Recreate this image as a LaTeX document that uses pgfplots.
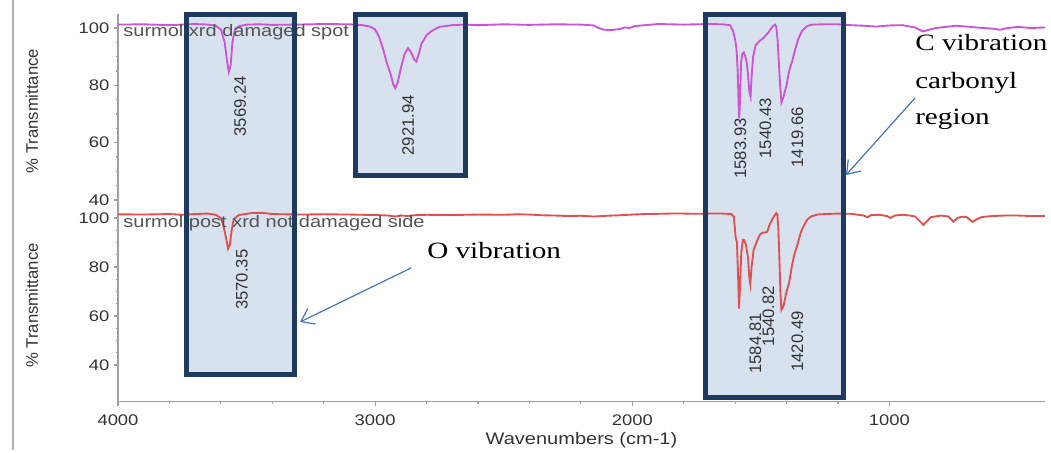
\documentclass[border=0pt]{standalone}
\usepackage{pgfplots}
\pgfplotsset{compat=1.18}
\usetikzlibrary{arrows.meta}
\usepackage{fontspec}
\setmainfont{Liberation Sans}
\newfontfamily\omnic[FakeStretch=1.2]{Liberation Sans}
\newfontfamily\omnicrot{Liberation Sans}
\newfontfamily\tnr[FakeStretch=1.25]{Liberation Serif}

\definecolor{spectop}{HTML}{CC55D6}
\definecolor{specbot}{HTML}{E05050}
\definecolor{boxedge}{HTML}{1F3A5F}
\definecolor{boxfill}{HTML}{D8E2EE}
\definecolor{arrowblue}{HTML}{4472C4}
\definecolor{axisgray}{HTML}{A0A0A0}
\definecolor{ticktext}{HTML}{333333}
\definecolor{legendgray}{HTML}{555555}

\pgfplotsset{
  ftir/.style={
    scale only axis, width=695.25pt,
    x dir=reverse, xmin=395, xmax=4000,
    clip=false,
    axis line style={axisgray, line width=0.9pt},
    tick style={axisgray, line width=0.8pt},
    tick align=outside, major tick length=3pt, minor tick length=1.5pt,
    ytick={40,60,80,100}, minor y tick num=3,
    tick label style={font=\omnic\fontsize{11.5}{13}\selectfont, text=ticktext},
    xticklabel style={yshift=-3pt},
    /pgf/number format/assume math mode=true,
    /pgf/number format/1000 sep={},
    every axis y label/.style={at={(axis description cs:-0.0928,0.5)}, rotate=90,
      anchor=center, font=\omnicrot\fontsize{12.5}{14}\selectfont, text=ticktext},
    ylabel={\% Transmittance},
  },
}
\tikzset{
  pk/.style={rotate=90, anchor=east, inner sep=0pt,
    font=\omnicrot\fontsize{12.5}{14}\selectfont, text=ticktext},
  lg/.style={anchor=west, inner sep=0pt,
    font=\omnic\fontsize{12.5}{14}\selectfont, text=legendgray},
}

\begin{document}
\begin{tikzpicture}
% pixel frame: 1 px = 0.75pt, origin top left
\begin{scope}[x=0.75pt, y=-0.75pt]
  \path[use as bounding box] (0,0) rectangle (1051,450);
  \draw[gray!60, line width=1.5pt] (13,0) -- (13,450);
  \fill[boxfill] (186.5,14.5) rectangle (294.5,374.5);
  \fill[boxfill] (355.5,14.5) rectangle (465.5,175.5);
  \fill[boxfill] (705.5,14.5) rectangle (843.5,397.5);
\end{scope}

% upper spectrum
\begin{axis}[ftir, at={(88.5pt,-10.275pt)}, anchor=north west,
  height=146.175pt, ymin=37, ymax=105,
  axis y line*=left, hide x axis]
\addplot[spectop, line width=1.4pt, no markers] coordinates {
(4000,101.2) (3900,101.3) (3800,101.0) (3750,101.2) (3700,101.4) (3650,101.2)
(3620,100.8) (3600,99.5) (3585,95) (3575,88) (3569,84.7) (3562,87) (3555,95)
(3545,99.5) (3530,100.6) (3500,101.2) (3450,101.3) (3400,101.1) (3300,101.2)
(3200,101.4) (3100,101.3) (3050,101.0) (3020,100.5) (3000,99.5) (2985,97)
(2970,93) (2955,88) (2940,84) (2930,80.5) (2922,79) (2912,81) (2900,86)
(2885,91) (2872,93) (2860,91.5) (2848,89) (2840,88.3) (2830,91) (2820,94.5)
(2800,97.5) (2780,99) (2750,100.4) (2700,101) (2650,101.2) (2600,101.0)
(2500,101.3) (2400,101.1) (2300,101.3) (2200,101.2) (2150,100.9) (2130,100.0)
(2110,99.4) (2080,99.3) (2050,99.6) (2030,100.2) (2010,100.0) (1990,100.7)
(1950,101.0) (1900,101.4) (1850,101.3) (1800,101.2) (1750,101.3) (1700,101.4)
(1650,101.3) (1620,101.0) (1608,99) (1600,96) (1595,93) (1590,85) (1586,72)
(1584,68.5) (1581,75) (1577,88) (1572,91) (1566,91.5) (1560,90) (1555,88)
(1550,84) (1545,78) (1540,76) (1536,83) (1530,90) (1520,94) (1505,95.5)
(1490,96.5) (1470,98.5) (1455,100.5) (1445,101.2) (1440,100.5) (1435,96)
(1430,88) (1425,80) (1420,74) (1412,76) (1400,80) (1390,85) (1378,88.5)
(1365,93) (1355,96) (1340,99) (1320,100.7) (1300,101.2) (1250,101.3)
(1200,101.3) (1150,101.0) (1100,100.8) (1050,100.5) (1000,100.9) (950,101.0)
(900,100.2) (870,98.8) (850,99.3) (820,100.0) (780,100.4) (740,100.8)
(700,100.5) (650,100.1) (600,99.8) (570,99.4) (540,100.0) (500,100.4)
(450,100.0) (395,100.2)
};
\node[lg] at (axis cs:3980,98.6) {surmol xrd damaged spot};
\node[pk] at (axis cs:3525,83.3) {3569.24};
\node[pk] at (axis cs:2872,76.7) {2921.94};
\node[pk] at (axis cs:1580,68.6) {1583.93};
\node[pk] at (axis cs:1482,75.6) {1540.43};
\node[pk] at (axis cs:1358,72.5) {1419.66};
\end{axis}

% lower spectrum
\begin{axis}[ftir, at={(88.5pt,-157.05pt)}, anchor=north west,
  height=144.26pt, ymin=25, ymax=103.5,
  axis x line*=bottom, axis y line*=left,
  xtick={1000,2000,3000,4000}, minor x tick num=4,
  xlabel={Wavenumbers (cm-1)},
  every axis x label/.style={at={(axis description cs:0.5,0)}, yshift=-29pt,
    anchor=center, font=\omnic\fontsize{12.5}{14}\selectfont, text=ticktext}]
\addplot[specbot, line width=1.4pt, no markers] coordinates {
(4000,101.5) (3900,101.4) (3800,101.6) (3750,101.3) (3700,101.6) (3650,101.8)
(3620,101.3) (3600,100) (3590,97) (3580,92) (3572,87.5) (3565,89) (3558,95)
(3550,99.5) (3530,101.2) (3480,102.0) (3440,102.1) (3400,101.6) (3350,101.5)
(3300,101.4) (3200,101.5) (3100,101.4) (3000,101.2) (2950,101.0) (2920,100.6)
(2900,101.0) (2870,100.8) (2850,101.1) (2800,101.3) (2700,101.2) (2600,101.4)
(2500,101.3) (2450,101.5) (2400,101.4) (2350,101.1) (2300,101.0) (2250,100.8)
(2200,100.9) (2150,100.6) (2100,100.9) (2050,101.1) (2000,101.4) (1950,101.6)
(1900,101.7) (1850,101.8) (1800,101.8) (1750,101.7) (1700,101.8) (1650,101.8)
(1615,101.6) (1605,100.5) (1598,92) (1593,90) (1589,78) (1585,63) (1581,72)
(1576,86) (1570,91) (1565,91) (1558,89) (1550,84) (1545,76) (1541,73)
(1536,80) (1528,87) (1515,90.5) (1505,93) (1494,94) (1485,94) (1475,94.4)
(1465,97.5) (1450,100.5) (1440,102) (1436,101.5) (1432,96) (1428,84)
(1424,70) (1420,62.5) (1412,64) (1400,70) (1390,73.5) (1380,80) (1370,85)
(1358,89) (1345,94) (1335,96.4) (1320,99.3) (1305,100.6) (1280,101.4)
(1250,101.6) (1200,101.8) (1150,101.7) (1120,101.3) (1100,101.0) (1086,100.3)
(1070,101.2) (1040,101.3) (1010,100.8) (996,100.0) (980,101.0) (950,101.3)
(920,101.0) (900,100.6) (880,98.5) (868,97.2) (855,98.5) (840,100.3)
(800,101.0) (770,100.6) (751,98.4) (735,100.0) (720,100.5) (700,100.4)
(677,98.4) (660,99.5) (640,100.4) (600,100.8) (550,101.0) (500,101.0)
(450,100.8) (395,100.8)
};
\node[lg] at (axis cs:3980,98) {surmol post xrd not damaged side};
\node[pk] at (axis cs:3518,87.2) {3570.35};
\node[pk] at (axis cs:1521,61.2) {1584.81};
\node[pk] at (axis cs:1471,72.4) {1540.82};
\node[pk] at (axis cs:1358,62) {1420.49};
\end{axis}

% annotation boxes, arrows and captions
\begin{scope}[x=0.75pt, y=-0.75pt]
  \draw[boxedge, line width=3.75pt] (186.5,14.5) rectangle (294.5,374.5);
  \draw[boxedge, line width=3.75pt] (355.5,14.5) rectangle (465.5,175.5);
  \draw[boxedge, line width=3.75pt] (705.5,14.5) rectangle (843.5,397.5);
  \draw[arrowblue, line width=0.9pt, -{Straight Barb[length=9pt,width=13pt]}]
    (915,98) -- (846,175);
  \draw[arrowblue, line width=0.9pt, -{Straight Barb[length=9pt,width=13pt]}]
    (411,268) -- (300,322);
  \begin{scope}[every node/.style={anchor=base west, inner sep=0pt,
      font=\tnr\fontsize{17.5}{21}\selectfont}]
    \node at (915,51) {C vibration};
    \node at (915,89) {carbonyl};
    \node at (915,125) {region};
    \node at (427,259) {O vibration};
  \end{scope}
\end{scope}
\end{tikzpicture}
\end{document}
